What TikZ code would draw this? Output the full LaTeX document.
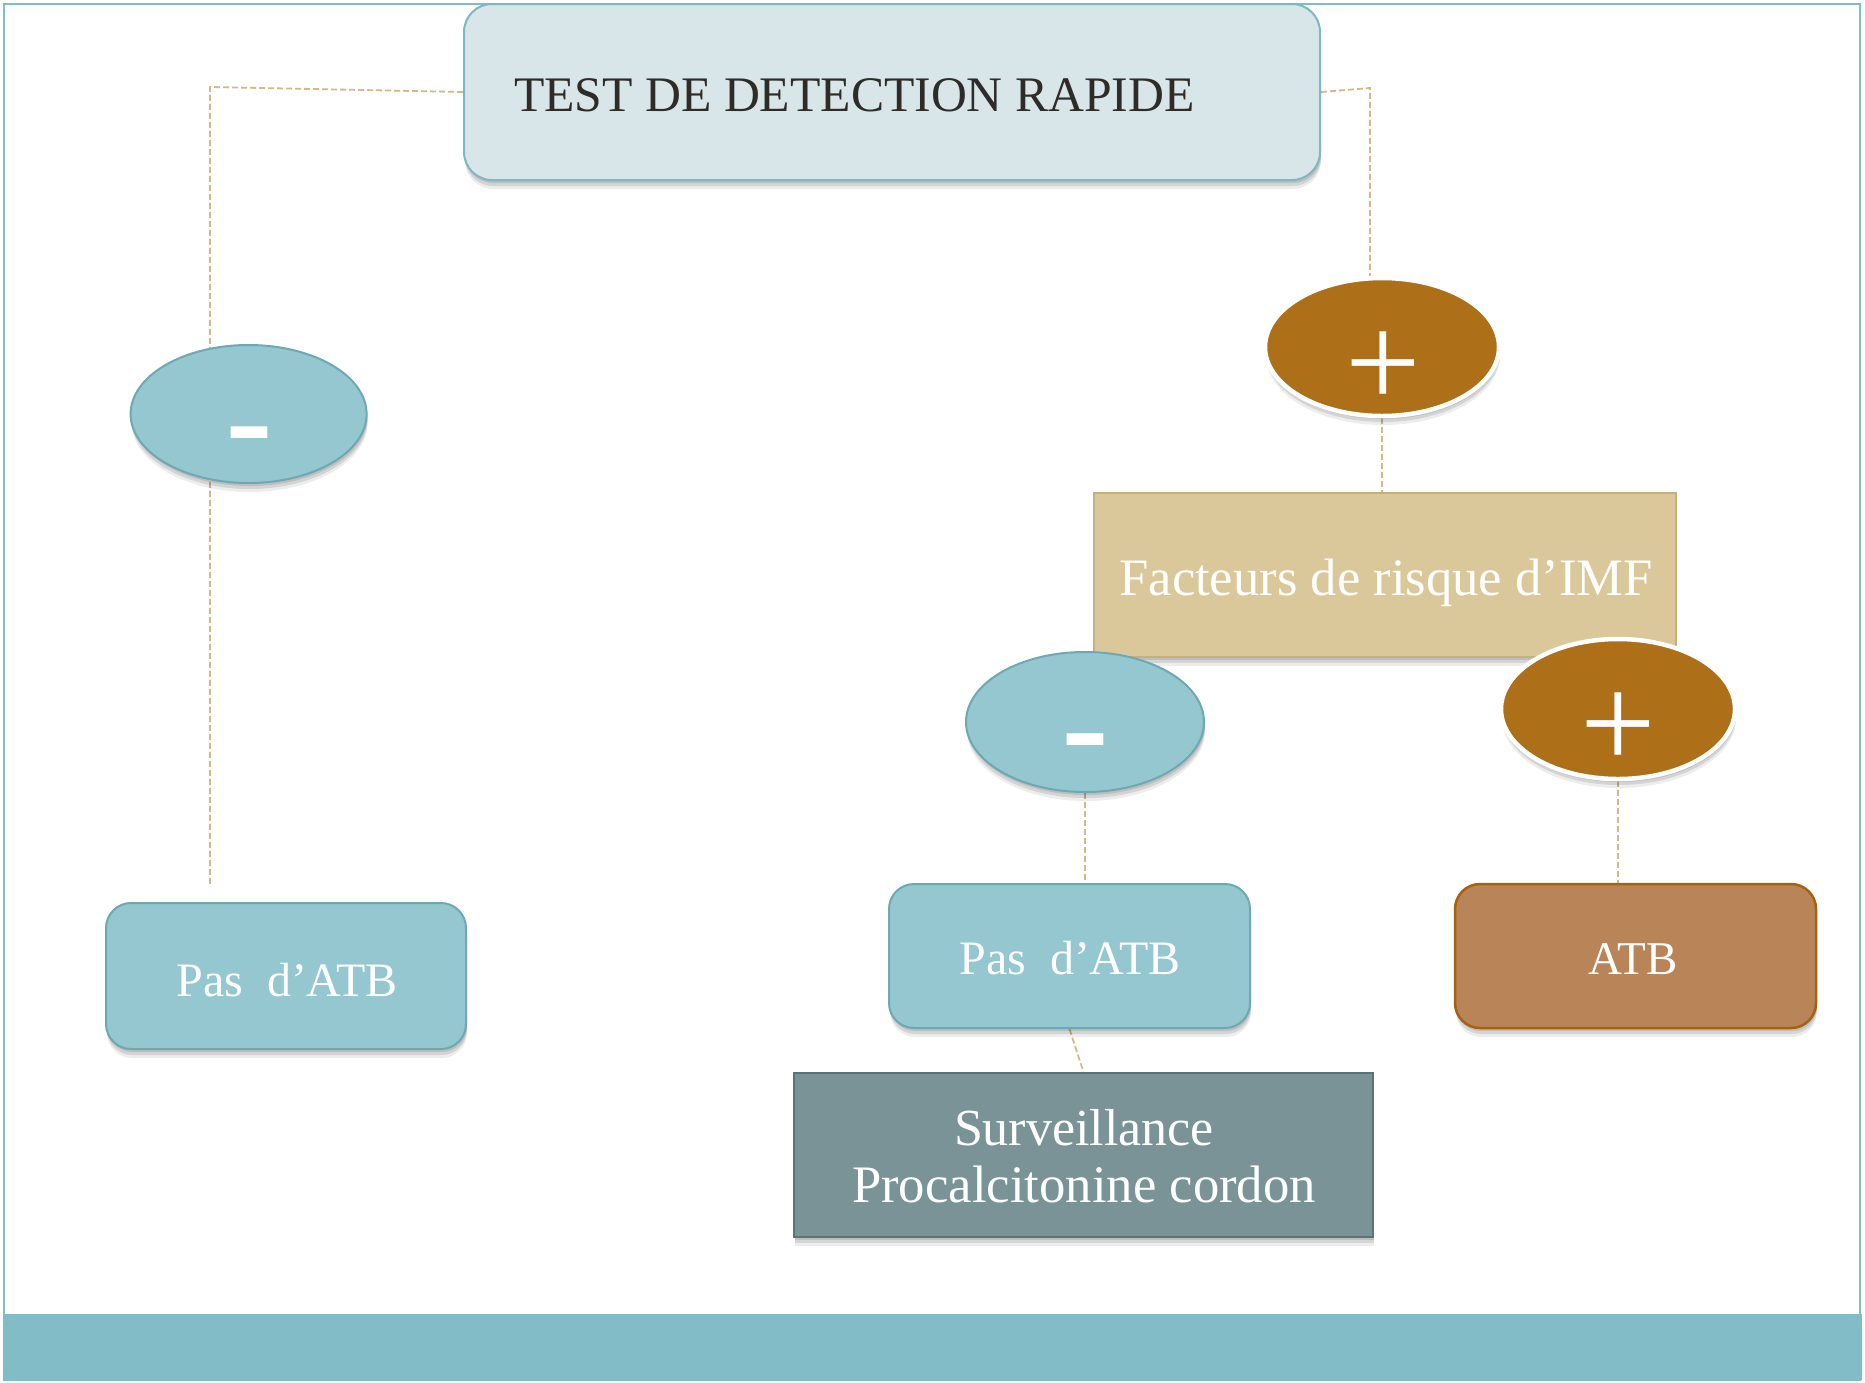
\documentclass[tikz,border=0pt]{standalone}
\usepackage{fontspec}
\setmainfont{Liberation Serif}
\newfontfamily\signfont{Liberation Sans}
\usetikzlibrary{shapes.geometric,shadows}
\definecolor{cFrame}{HTML}{82BCC6}
\definecolor{cTitleFill}{HTML}{D8E5E9}
\definecolor{cTitleLine}{HTML}{7DB8C4}
\definecolor{cTitleText}{HTML}{2F2B26}
\definecolor{cTealFill}{HTML}{94C7D0}
\definecolor{cTealLine}{HTML}{6EA9B3}
\definecolor{cBrownFill}{HTML}{AD6F18}
\definecolor{cSandFill}{HTML}{DAC89B}
\definecolor{cSandLine}{HTML}{C6B07E}
\definecolor{cAtbFill}{HTML}{B98457}
\definecolor{cAtbLine}{HTML}{A5620F}
\definecolor{cSurvFill}{HTML}{799397}
\definecolor{cSurvLine}{HTML}{587478}
\definecolor{cDash}{HTML}{D2B98A}
\pgfdeclarelayer{bg}
\pgfsetlayers{bg,main}
\begin{document}
\begin{tikzpicture}[x=1pt,y=-1pt,
  shd/.style={drop shadow={shadow xshift=1pt,shadow yshift=-3pt,opacity=0.10,fill=black},
              drop shadow={shadow xshift=1pt,shadow yshift=-6pt,opacity=0.10,fill=black},
              drop shadow={shadow xshift=1pt,shadow yshift=-9pt,opacity=0.07,fill=black}},
  tealbox/.style={shd,rectangle,rounded corners=25pt,fill=cTealFill,draw=cTealLine,line width=2pt,inner sep=0pt},
  tealell/.style={shd,ellipse,fill=cTealFill,draw=cTealLine,line width=2pt,inner sep=0pt},
  brownell/.style={shd,ellipse,fill=cBrownFill,draw=white,line width=4.5pt,inner sep=0pt},
  txt/.style={inner sep=0pt,text=white,anchor=base},
  sign/.style={inner sep=0pt,text=white,anchor=base},
  conn/.style={draw=cDash,line width=1.8pt,dash pattern=on 6pt off 3pt}]
\useasboundingbox (0,0) rectangle (1865,1382);
\begin{pgfonlayer}{bg}
\fill[white] (0,0) rectangle (1865,1382);
\end{pgfonlayer}
% frame and bottom band
\draw[cFrame,line width=2pt] (4,4) rectangle (1860,1380);
\fill[cFrame] (4,1314) rectangle (1862,1380);

% title
\node[shd,rectangle,rounded corners=28pt,fill=cTitleFill,draw=cTitleLine,line width=2pt,
      minimum width=856pt,minimum height=176pt,inner sep=0pt] (title) at (892,92) {};
\node[inner sep=0pt,anchor=base west,text=cTitleText,font=\fontsize{49.7}{60}\selectfont] (titleT) at (514,111) {TEST DE DETECTION RAPIDE};

% left branch
\node[tealell,minimum width=236pt,minimum height=138pt] (mL) at (248.6,414) {};
\node[sign,font=\signfont\fontsize{150}{150}\selectfont] (mLs) at (249.5,472) {-};
\node[tealbox,minimum width=360pt,minimum height=146pt] (pasL) at (286,976) {};
\node[txt,font=\fontsize{48}{58}\selectfont] (pasLT) at (287,996) {Pas~ d’ATB};

% right branch
\node[brownell,minimum width=234pt,minimum height=138pt] (pT) at (1382,347) {};
\node[sign,font=\fontsize{134}{134}\selectfont] (pTs) at (1383,407) {+};

\node[shd,rectangle,fill=cSandFill,draw=cSandLine,line width=1.5pt,inner sep=0pt,
      minimum width=582pt,minimum height=164pt] (fact) at (1385,575) {};
\node[txt,font=\fontsize{52.6}{62}\selectfont] (factT) at (1386,595) {Facteurs de risque d’IMF};

\node[tealell,minimum width=238pt,minimum height=140pt] (mM) at (1085,722) {};
\node[sign,font=\signfont\fontsize{150}{150}\selectfont] (mMs) at (1085,779) {-};

\node[brownell,minimum width=234pt,minimum height=140pt] (pR) at (1618,709) {};
\node[sign,font=\fontsize{134}{134}\selectfont] (pRs) at (1618,768) {+};

\node[tealbox,minimum width=361pt,minimum height=144pt] (pasM) at (1069.5,956) {};
\node[txt,font=\fontsize{48}{58}\selectfont] (pasMT) at (1070,974) {Pas~ d’ATB};

\node[shd,rectangle,rounded corners=25pt,fill=cAtbFill,draw=cAtbLine,line width=2.5pt,inner sep=0pt,
      minimum width=361pt,minimum height=144pt] (atb) at (1635.5,956) {};
\node[txt,font=\fontsize{47}{57}\selectfont] (atbT) at (1633,974) {ATB};

\node[shd,rectangle,fill=cSurvFill,draw=cSurvLine,line width=2pt,inner sep=0pt,
      minimum width=579pt,minimum height=164pt] (surv) at (1083.5,1155) {};
\node[txt,font=\fontsize{52}{62}\selectfont] (survT1) at (1084,1145) {Surveillance};
\node[txt,font=\fontsize{52.7}{62}\selectfont] (survT2) at (1084,1202) {Procalcitonine cordon};

% connectors
\coordinate (cLtop) at (210,87);
\coordinate (cLend) at (210,886);
\coordinate (cRtop) at (1370,88);
\begin{pgfonlayer}{bg}
\draw[conn] (title.west) -- (cLtop) -- (cLend);
\draw[conn] (title.east) -- (cRtop) -- (cRtop |- pT.center);
\draw[conn] (pT.south) -- (pT.south |- fact.north);
\draw[conn] (mM.south) -- (mM.south |- pasM.north);
\draw[conn] (pR.south) -- (pR.south |- atb.north);
\draw[conn] (pasM.south) -- (surv.north);
\end{pgfonlayer}
\end{tikzpicture}
\end{document}
